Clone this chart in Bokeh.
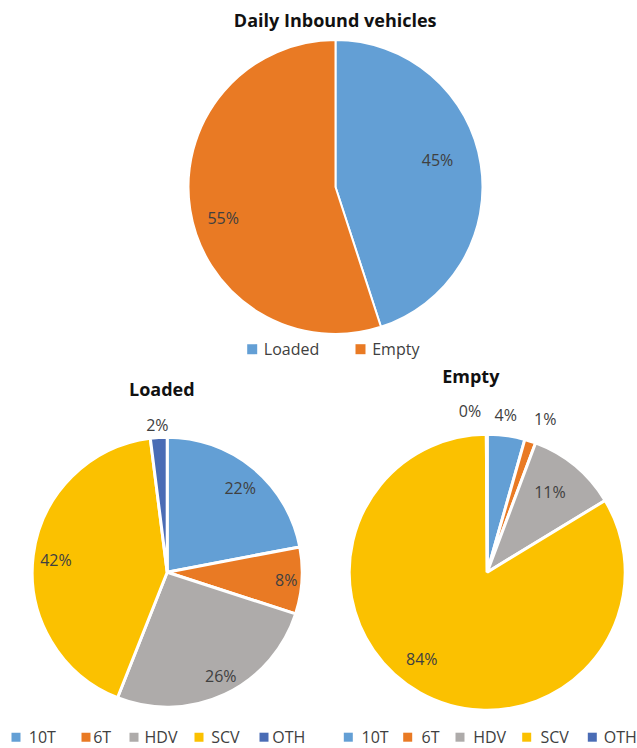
import numpy as np
from bokeh.plotting import figure
from bokeh.models import ColumnDataSource, Range1d
from bokeh.core.properties import value
from bokeh.embed import file_html
from bokeh.resources import INLINE

# ---------------- data ----------------
top_title = "Daily Inbound vehicles"
top_categories = ["Loaded", "Empty"]
top_values = [45, 55]

sub_categories = ["10T", "6T", "HDV", "SCV", "OTH"]
loaded_title = "Loaded"
loaded_values = [22, 8, 26, 42, 2]
empty_title = "Empty"
empty_values = [4.4, 1.3, 10.6, 83.6, 0.1]

# ---------------- styles ----------------
top_colors = ["#639FD5", "#E97A24"]
sub_colors = ["#639FD5", "#E97A24", "#AEABAA", "#FBC100", "#4A6CB5"]
FONT = value("Open Sans")
LABEL_COLOR = "#404040"

W, H = 637, 748
p = figure(width=W, height=H, x_range=Range1d(0, W), y_range=Range1d(0, H),
           output_backend="svg", toolbar_location=None, min_border=0,
           x_axis_location=None, y_axis_location=None)
p.grid.visible = False
p.outline_line_color = None
p.background_fill_color = "white"
p.border_fill_color = "white"


def draw_pie(cx, cy, r, vals, colors, label_frac, label_nudge, lw):
    v = np.array(vals, dtype=float)
    frac = v / v.sum()
    cum = np.concatenate([[0.0], np.cumsum(frac)])
    start = np.pi / 2 - 2 * np.pi * cum[1:]
    end = np.pi / 2 - 2 * np.pi * cum[:-1]
    src = ColumnDataSource(dict(start=start, end=end, color=colors))
    p.wedge(x=cx, y=cy, radius=r, start_angle="start", end_angle="end",
            fill_color="color", line_color="white", line_width=lw, source=src)
    mid = (start + end) / 2 + np.radians(label_nudge)
    rr = r * np.array(label_frac)
    lsrc = ColumnDataSource(dict(x=cx + rr * np.cos(mid), y=cy + rr * np.sin(mid),
                                 t=[f"{x:.0f}%" for x in v]))
    p.text(x="x", y="y", text="t", source=lsrc, text_font=FONT,
           text_font_size="16px", text_color=LABEL_COLOR,
           text_align="center", text_baseline="middle")


def draw_title(x, y, t):
    p.text(x=[x], y=[y], text=[t], text_font=FONT, text_font_size="18px",
           text_font_style="bold", text_color="#111111",
           text_align="center", text_baseline="middle")


def draw_legend(sq_x, txt_x, y, labels, colors, size):
    p.scatter(x=sq_x, y=[y] * len(sq_x), marker="square", size=size,
              fill_color=colors, line_color=None)
    p.text(x=txt_x, y=[y] * len(txt_x), text=labels, text_font=FONT,
           text_font_size="16px", text_color=LABEL_COLOR,
           text_align="left", text_baseline="middle")


# top pie
draw_title(334.7, 728.8, top_title)
draw_pie(335, 561.5, 147, top_values, top_colors,
         [0.718, 0.793], [5.8, 6.5], 2)
draw_legend([251.7, 360], [263.3, 371.7], 399.3,
            top_categories, top_colors, 10)

# loaded pie
draw_title(161.3, 359.7, loaded_title)
draw_pie(166.7, 176.3, 135, loaded_values, sub_colors,
         [0.824, 0.884, 0.865, 0.829, 1.095], [-1.4, 0, 2.1, 0.9, 0.2], 3)
draw_legend([15.5, 85.5, 133.5, 198.5, 263.5],
            [28.3, 92.7, 144, 210.7, 271.7], 11.3,
            sub_categories, sub_colors, 9)

# empty pie
draw_title(470.3, 373, empty_title)
draw_pie(486.7, 176.3, 138, empty_values, sub_colors,
         [1.145, 1.19, 0.737, 0.787, 1.176], [1.2, -2.5, 1.5, -7.9, 5.9], 3)
draw_legend([347.8, 407.2, 459.5, 526.2, 591.8],
            [361, 421, 472.7, 540, 603.3], 11.3,
            sub_categories, sub_colors, 9)

open("out.html", "w").write(file_html(p, INLINE))
